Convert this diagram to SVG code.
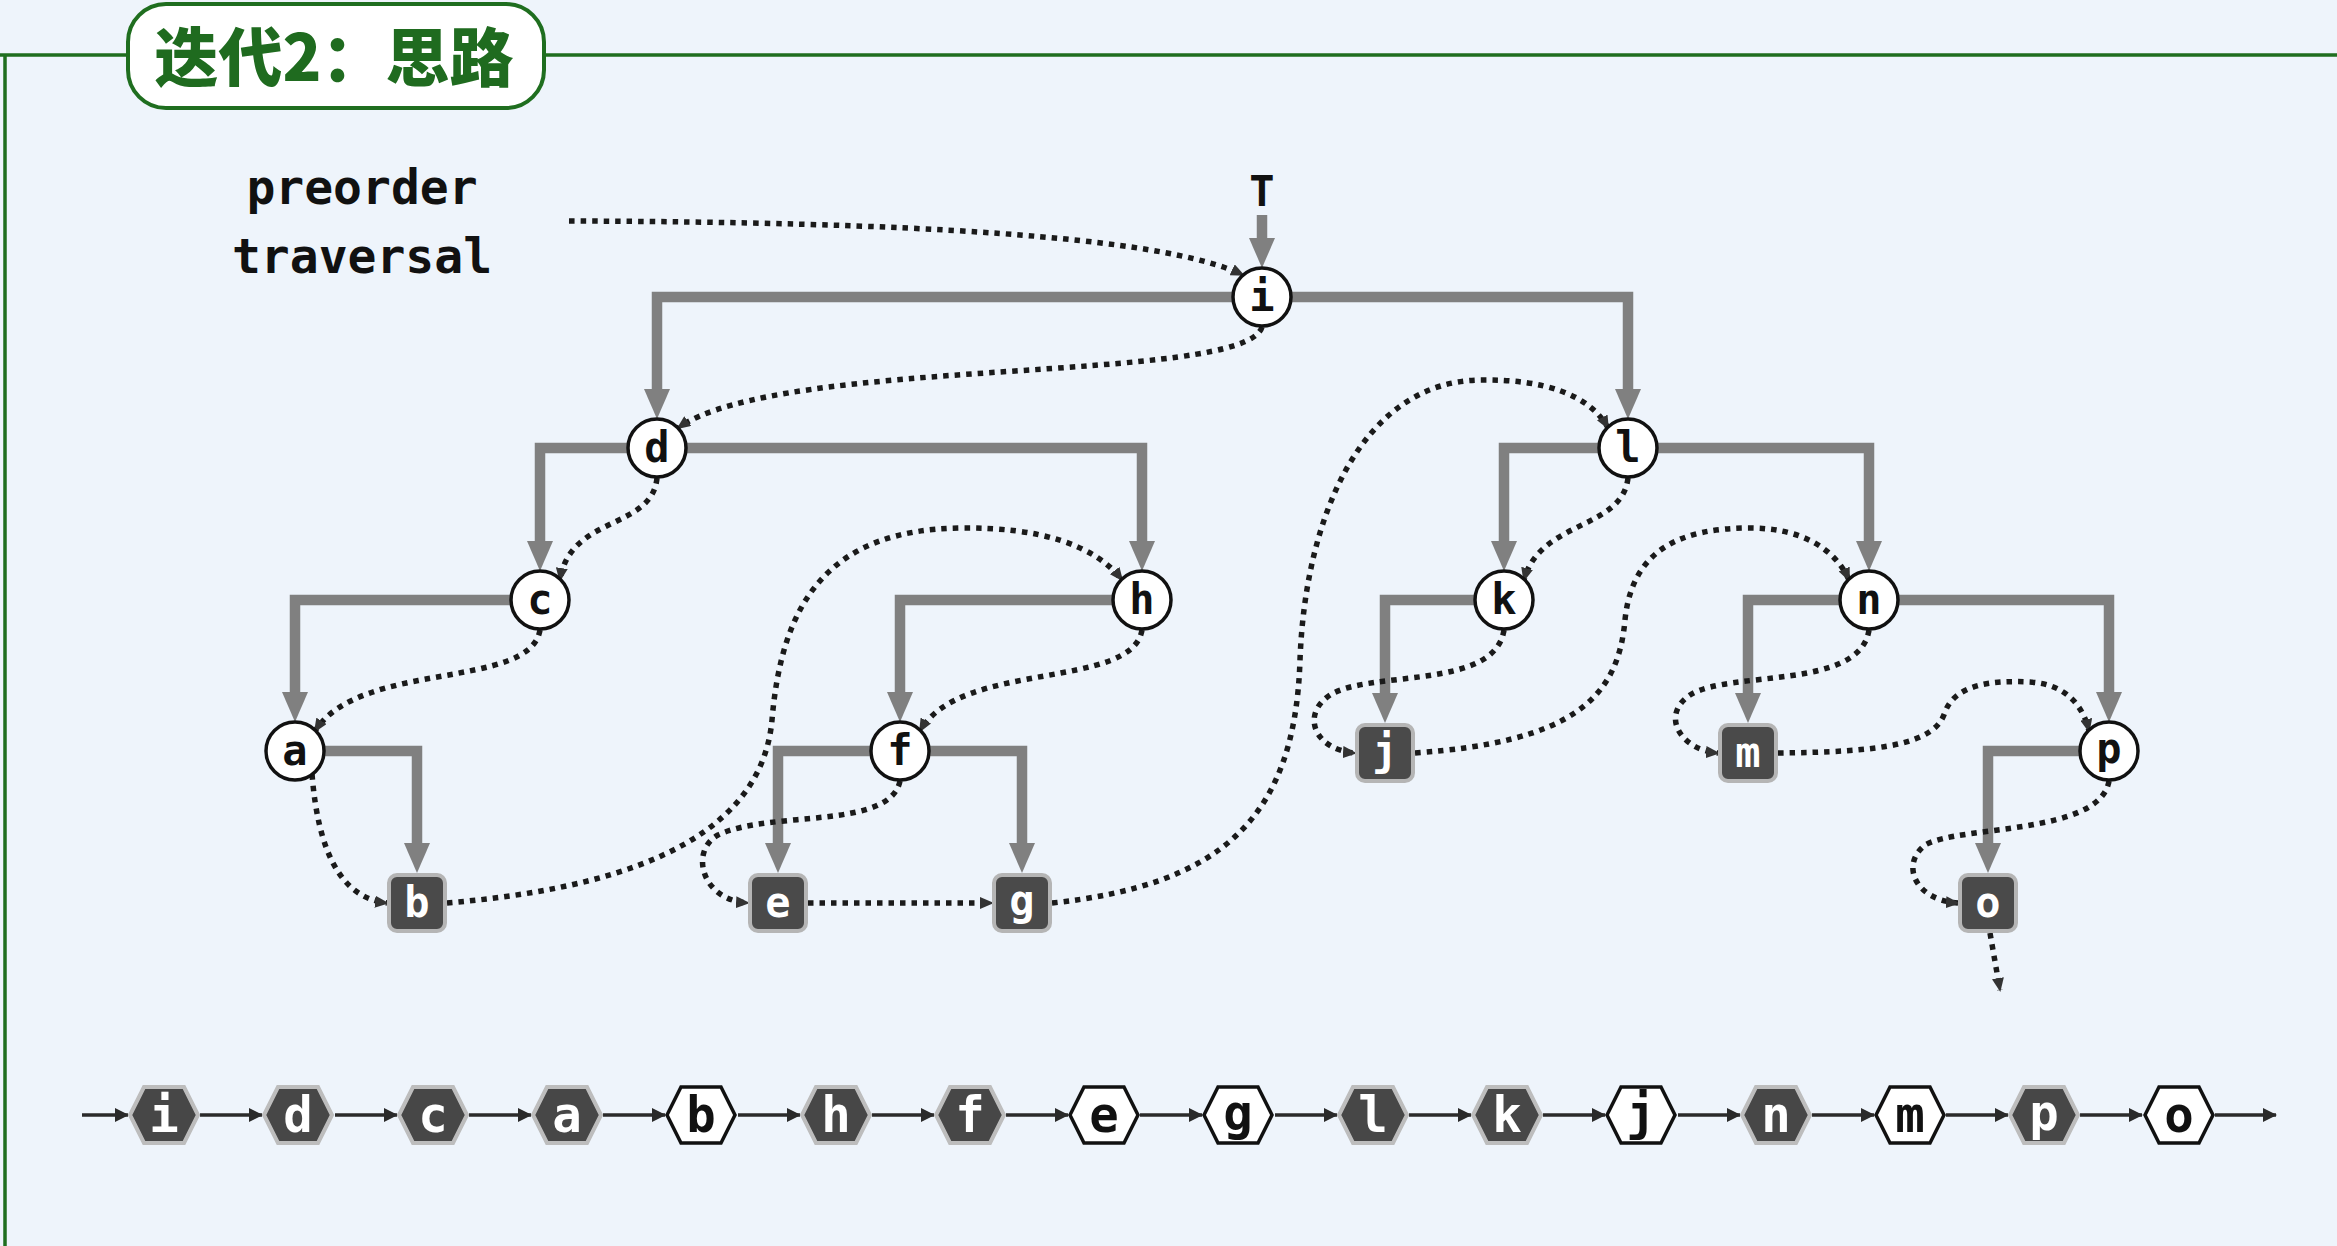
<svg xmlns="http://www.w3.org/2000/svg" width="2337" height="1246" viewBox="0 0 2337 1246">
<defs>
<style>
.frame{fill:none;stroke:#1f6e1f;stroke-width:3.5}
.title{font-family:"Noto Sans CJK SC","Noto Sans",sans-serif;font-weight:900;font-size:64px;fill:#1f6b1f}
.lbl{font-family:"DejaVu Sans Mono","Liberation Mono",monospace;font-weight:700;fill:#111}
.edge{fill:none;stroke:#808080;stroke-width:10.5;stroke-linejoin:miter}
.dot{fill:none;stroke:#1a1a1a;stroke-width:5.5;stroke-dasharray:5.5 6}
.seq{fill:none;stroke:#2a2a2a;stroke-width:3.5}
.circ{fill:#fff;stroke:#111;stroke-width:3.5}
.leaf{fill:#4a4a4a;stroke:#b5b5b5;stroke-width:4}
.nt{font-family:"DejaVu Sans Mono","Liberation Mono",monospace;font-weight:700;font-size:42px;text-anchor:middle}
.hd{fill:#474747;stroke:#bdbdbd;stroke-width:4}
.hw{fill:#fff;stroke:#111;stroke-width:3.5}
.ht{font-family:"DejaVu Sans Mono","Liberation Mono",monospace;font-weight:700;font-size:49px;text-anchor:middle}
</style>
<marker id="ga" viewBox="0 0 30 26" refX="0" refY="13" markerWidth="30" markerHeight="26" markerUnits="userSpaceOnUse" orient="auto"><path d="M0,0 L30,13 L0,26 z" fill="#808080"/></marker>
<marker id="da" viewBox="0 0 14 12" refX="12" refY="6" markerWidth="14" markerHeight="12" markerUnits="userSpaceOnUse" orient="auto"><path d="M0,0 L14,6 L0,12 z" fill="#333"/></marker>
<marker id="sa" viewBox="0 0 14 14" refX="13" refY="7" markerWidth="14" markerHeight="14" markerUnits="userSpaceOnUse" orient="auto"><path d="M0,0 L14,7 L0,14 z" fill="#2a2a2a"/></marker>
<polygon id="hex" points="-34,0 -20,-28 20,-28 34,0 20,28 -20,28"/>
</defs>
<rect x="0" y="0" width="2337" height="1246" fill="#eef4fb"/>

<g id="frame">
<path class="frame" d="M0 55 H128 M544 55 H2337 M5 55 V1246"/>
<rect x="128" y="4" width="416" height="104" rx="38" fill="#fff" stroke="#1f6e1f" stroke-width="4"/>
<text class="title" x="334" y="81" text-anchor="middle">迭代2：思路</text>
</g>

<g id="labels">
<text class="lbl" x="362" y="204" font-size="48" text-anchor="middle">preorder</text>
<text class="lbl" x="362" y="273" font-size="48" text-anchor="middle">traversal</text>
<text class="lbl" x="1262" y="206" font-size="42" text-anchor="middle">T</text>
</g>

<g id="connectors">
<g id="tree-edges">
<path class="edge" marker-end="url(#ga)" d="M1262 215 V238"/>
<path class="edge" marker-end="url(#ga)" d="M1262 297 H657 V389"/>
<path class="edge" marker-end="url(#ga)" d="M1262 297 H1628 V389"/>
<path class="edge" marker-end="url(#ga)" d="M657 448 H540 V541"/>
<path class="edge" marker-end="url(#ga)" d="M657 448 H1142 V541"/>
<path class="edge" marker-end="url(#ga)" d="M540 600 H295 V692"/>
<path class="edge" marker-end="url(#ga)" d="M295 751 H417 V843"/>
<path class="edge" marker-end="url(#ga)" d="M1142 600 H900 V692"/>
<path class="edge" marker-end="url(#ga)" d="M900 751 H778 V843"/>
<path class="edge" marker-end="url(#ga)" d="M900 751 H1022 V843"/>
<path class="edge" marker-end="url(#ga)" d="M1628 448 H1504 V541"/>
<path class="edge" marker-end="url(#ga)" d="M1628 448 H1869 V541"/>
<path class="edge" marker-end="url(#ga)" d="M1504 600 H1385 V693"/>
<path class="edge" marker-end="url(#ga)" d="M1869 600 H1748 V693"/>
<path class="edge" marker-end="url(#ga)" d="M1869 600 H2109 V692"/>
<path class="edge" marker-end="url(#ga)" d="M2109 751 H1988 V843"/>
</g>
<g id="traversal">
<path class="dot" marker-end="url(#da)" d="M569 221 C900 222, 1160 235, 1243 275"/>
<path class="dot" marker-end="url(#da)" d="M1262 327 C1245 385, 780 355, 678 428"/>
<path class="dot" marker-end="url(#da)" d="M657 478 C652 530, 570 515, 560 580"/>
<path class="dot" marker-end="url(#da)" d="M540 630 C530 690, 360 660, 315 731"/>
<path class="dot" marker-end="url(#da)" d="M312 774 C318 850, 340 898, 387 903"/>
<path class="dot" marker-end="url(#da)" d="M447 903 C600 890, 760 850, 772 720 C782 600, 830 530, 960 528 C1040 527, 1095 545, 1122 580"/>
<path class="dot" marker-end="url(#da)" d="M1142 630 C1132 690, 960 660, 920 731"/>
<path class="dot" marker-end="url(#da)" d="M900 781 C890 830, 770 810, 718 835 C690 850, 700 900, 748 903"/>
<path class="dot" marker-end="url(#da)" d="M808 903 H992"/>
<path class="dot" marker-end="url(#da)" d="M1052 903 C1220 885, 1295 820, 1300 660 C1305 520, 1360 382, 1480 380 C1545 379, 1590 395, 1608 428"/>
<path class="dot" marker-end="url(#da)" d="M1628 478 C1622 530, 1540 520, 1524 580"/>
<path class="dot" marker-end="url(#da)" d="M1504 630 C1495 690, 1370 670, 1330 695 C1300 715, 1315 750, 1355 753"/>
<path class="dot" marker-end="url(#da)" d="M1415 753 C1570 742, 1618 700, 1625 620 C1632 550, 1680 528, 1750 528 C1800 528, 1835 548, 1849 580"/>
<path class="dot" marker-end="url(#da)" d="M1869 630 C1860 690, 1730 670, 1690 695 C1660 715, 1680 750, 1718 753"/>
<path class="dot" marker-end="url(#da)" d="M1778 753 C1880 752, 1935 745, 1945 712 C1955 685, 1990 680, 2030 682 C2065 684, 2083 705, 2089 731"/>
<path class="dot" marker-end="url(#da)" d="M2109 781 C2100 835, 1960 825, 1925 845 C1900 865, 1915 900, 1958 903"/>
<path class="dot" marker-end="url(#da)" d="M1990 933 L2000 990"/>
</g>
<g id="sequence-arrows">
<path class="seq" marker-end="url(#sa)" d="M82 1115 H128"/>
<path class="seq" marker-end="url(#sa)" d="M200 1115 H262"/>
<path class="seq" marker-end="url(#sa)" d="M335 1115 H397"/>
<path class="seq" marker-end="url(#sa)" d="M469 1115 H531"/>
<path class="seq" marker-end="url(#sa)" d="M603 1115 H665"/>
<path class="seq" marker-end="url(#sa)" d="M738 1115 H800"/>
<path class="seq" marker-end="url(#sa)" d="M872 1115 H934"/>
<path class="seq" marker-end="url(#sa)" d="M1006 1115 H1068"/>
<path class="seq" marker-end="url(#sa)" d="M1140 1115 H1202"/>
<path class="seq" marker-end="url(#sa)" d="M1275 1115 H1337"/>
<path class="seq" marker-end="url(#sa)" d="M1409 1115 H1471"/>
<path class="seq" marker-end="url(#sa)" d="M1543 1115 H1605"/>
<path class="seq" marker-end="url(#sa)" d="M1678 1115 H1740"/>
<path class="seq" marker-end="url(#sa)" d="M1812 1115 H1874"/>
<path class="seq" marker-end="url(#sa)" d="M1946 1115 H2008"/>
<path class="seq" marker-end="url(#sa)" d="M2080 1115 H2142"/>
<path class="seq" marker-end="url(#sa)" d="M2215 1115 H2276"/>
</g>
</g>

<g id="tree-nodes">
<g id="node-i"><circle class="circ" cx="1262" cy="297" r="29"/><text class="nt" x="1262" y="311" fill="#111">i</text></g>
<g id="node-d"><circle class="circ" cx="657" cy="448" r="29"/><text class="nt" x="657" y="462" fill="#111">d</text></g>
<g id="node-l"><circle class="circ" cx="1628" cy="448" r="29"/><text class="nt" x="1628" y="462" fill="#111">l</text></g>
<g id="node-c"><circle class="circ" cx="540" cy="600" r="29"/><text class="nt" x="540" y="614" fill="#111">c</text></g>
<g id="node-h"><circle class="circ" cx="1142" cy="600" r="29"/><text class="nt" x="1142" y="614" fill="#111">h</text></g>
<g id="node-k"><circle class="circ" cx="1504" cy="600" r="29"/><text class="nt" x="1504" y="614" fill="#111">k</text></g>
<g id="node-n"><circle class="circ" cx="1869" cy="600" r="29"/><text class="nt" x="1869" y="614" fill="#111">n</text></g>
<g id="node-a"><circle class="circ" cx="295" cy="751" r="29"/><text class="nt" x="295" y="765" fill="#111">a</text></g>
<g id="node-f"><circle class="circ" cx="900" cy="751" r="29"/><text class="nt" x="900" y="765" fill="#111">f</text></g>
<g id="node-p"><circle class="circ" cx="2109" cy="751" r="29"/><text class="nt" x="2109" y="763" fill="#111">p</text></g>
<g id="node-j"><rect class="leaf" x="1357" y="725" width="56" height="56" rx="8"/><text class="nt" x="1385" y="765" fill="#fff">j</text></g>
<g id="node-m"><rect class="leaf" x="1720" y="725" width="56" height="56" rx="8"/><text class="nt" x="1748" y="767" fill="#fff">m</text></g>
<g id="node-b"><rect class="leaf" x="389" y="875" width="56" height="56" rx="8"/><text class="nt" x="417" y="917" fill="#fff">b</text></g>
<g id="node-e"><rect class="leaf" x="750" y="875" width="56" height="56" rx="8"/><text class="nt" x="778" y="917" fill="#fff">e</text></g>
<g id="node-g"><rect class="leaf" x="994" y="875" width="56" height="56" rx="8"/><text class="nt" x="1022" y="915" fill="#fff">g</text></g>
<g id="node-o"><rect class="leaf" x="1960" y="875" width="56" height="56" rx="8"/><text class="nt" x="1988" y="917" fill="#fff">o</text></g>
</g>

<g id="sequence">
<g id="seq-i" transform="translate(164 1115)"><use href="#hex" class="hd"/><text class="ht" y="17" fill="#fff">i</text></g>
<g id="seq-d" transform="translate(298 1115)"><use href="#hex" class="hd"/><text class="ht" y="17" fill="#fff">d</text></g>
<g id="seq-c" transform="translate(433 1115)"><use href="#hex" class="hd"/><text class="ht" y="17" fill="#fff">c</text></g>
<g id="seq-a" transform="translate(567 1115)"><use href="#hex" class="hd"/><text class="ht" y="17" fill="#fff">a</text></g>
<g id="seq-b" transform="translate(701 1115)"><use href="#hex" class="hw"/><text class="ht" y="17" fill="#111">b</text></g>
<g id="seq-h" transform="translate(836 1115)"><use href="#hex" class="hd"/><text class="ht" y="17" fill="#fff">h</text></g>
<g id="seq-f" transform="translate(970 1115)"><use href="#hex" class="hd"/><text class="ht" y="17" fill="#fff">f</text></g>
<g id="seq-e" transform="translate(1104 1115)"><use href="#hex" class="hw"/><text class="ht" y="17" fill="#111">e</text></g>
<g id="seq-g" transform="translate(1238 1115)"><use href="#hex" class="hw"/><text class="ht" y="15" fill="#111">g</text></g>
<g id="seq-l" transform="translate(1373 1115)"><use href="#hex" class="hd"/><text class="ht" y="17" fill="#fff">l</text></g>
<g id="seq-k" transform="translate(1507 1115)"><use href="#hex" class="hd"/><text class="ht" y="17" fill="#fff">k</text></g>
<g id="seq-j" transform="translate(1641 1115)"><use href="#hex" class="hw"/><text class="ht" y="15" fill="#111">j</text></g>
<g id="seq-n" transform="translate(1776 1115)"><use href="#hex" class="hd"/><text class="ht" y="17" fill="#fff">n</text></g>
<g id="seq-m" transform="translate(1910 1115)"><use href="#hex" class="hw"/><text class="ht" y="17" fill="#111">m</text></g>
<g id="seq-p" transform="translate(2044 1115)"><use href="#hex" class="hd"/><text class="ht" y="15" fill="#fff">p</text></g>
<g id="seq-o" transform="translate(2179 1115)"><use href="#hex" class="hw"/><text class="ht" y="17" fill="#111">o</text></g>
</g>
</svg>
